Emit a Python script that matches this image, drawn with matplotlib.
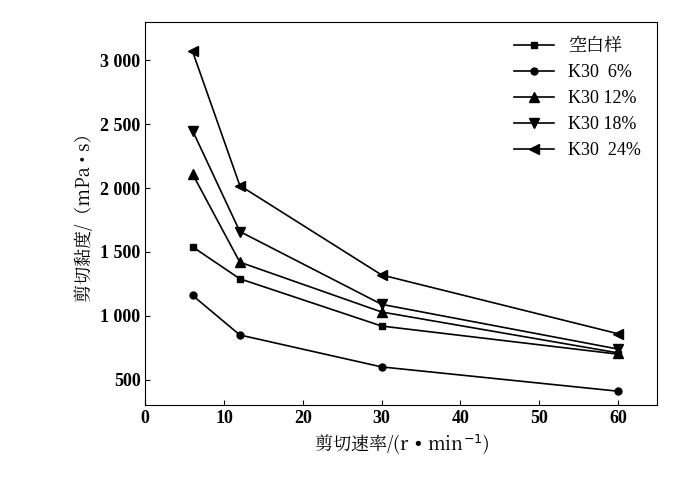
import matplotlib
matplotlib.use("Agg")
import matplotlib.pyplot as plt
from matplotlib import font_manager as fm
from matplotlib.ticker import FuncFormatter

cjk = None
for f in fm.fontManager.ttflist:
    if 'CJK' in f.name:
        cjk = f.name
        if 'SC' in f.name:
            break
cjk = cjk or 'DejaVu Sans'
plt.rcParams['font.family'] = ['Liberation Serif', cjk]

x = [6, 12, 30, 60]
labels = ["空白样", "K30  6%", "K30 12%", "K30 18%", "K30  24%"]
blank = [1540, 1290, 920, 700]
k6 = [1160, 850, 600, 410]
k12 = [2110, 1420, 1030, 710]
k18 = [2450, 1660, 1090, 740]
k24 = [3070, 2020, 1320, 860]
series = [blank, k6, k12, k18, k24]
markers = ['s', 'o', '^', 'v', '<']
sizes = [5, 5, 7, 7, 7]

fig = plt.figure(figsize=(6.79, 4.79), dpi=100)
ax = fig.add_axes([0.214, 0.154, 0.754, 0.8])
for s, m, ms, lab in zip(series, markers, sizes, labels):
    ax.plot(x, s, color='black', marker=m, markersize=ms, linewidth=1.2, label=lab)
ax.set_xlim(0, 65)
ax.set_ylim(300, 3300)
ax.set_xticks([0, 10, 20, 30, 40, 50, 60])
ax.set_yticks([500, 1000, 1500, 2000, 2500, 3000])
ax.yaxis.set_major_formatter(FuncFormatter(lambda v, p: f"{int(v):,}".replace(",", " ")))
ax.tick_params(direction='in', labelsize=13)
for t in ax.get_xticklabels() + ax.get_yticklabels():
    t.set_fontweight('bold')
ax.set_xlabel("剪切速率/(r • min$^{-1}$)", fontsize=13, fontfamily=cjk)
ax.set_ylabel("剪切黏度/（mPa • s）", fontsize=13, fontfamily=cjk)
ax.legend(loc='upper right', frameon=False, handlelength=2.2,
          prop={'family': ['Liberation Serif', cjk], 'size': 13})
fig.savefig("out.png", dpi=100)
